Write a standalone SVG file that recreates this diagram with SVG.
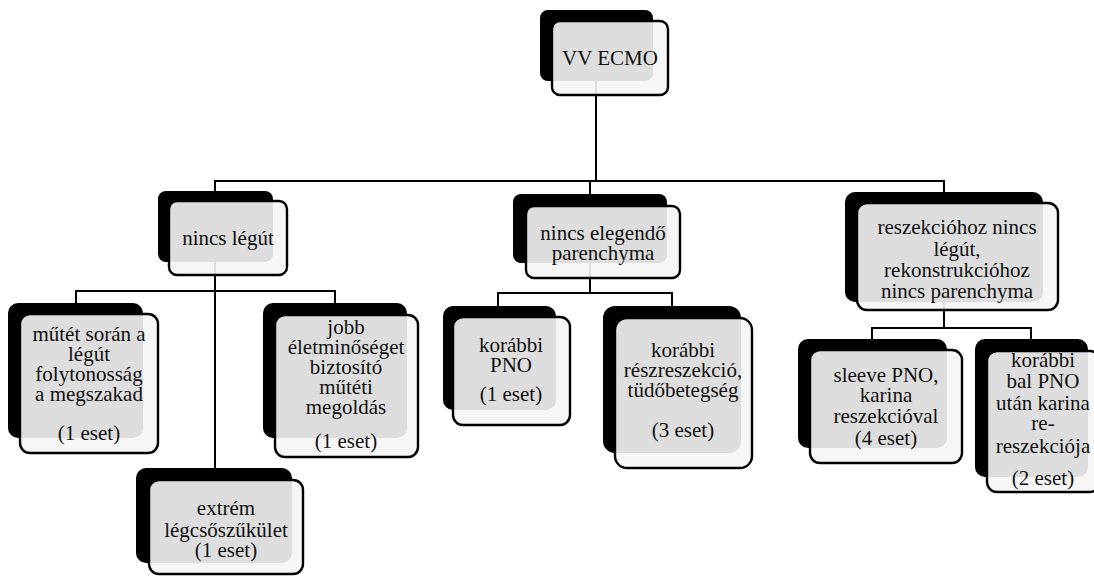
<svg xmlns="http://www.w3.org/2000/svg" width="1094" height="576" viewBox="0 0 1094 576">
<style>
.back{fill:#000;}
.front{fill:#f5f5f5;fill-opacity:0.9;stroke:#000;stroke-width:2.4;}
.conn{fill:none;stroke:#000;stroke-width:2;}
.t{font-size:21px;fill:#111;text-anchor:middle;}
</style>
<rect width="1094" height="576" fill="#fff"/>
<g id="connectors">
<path class="conn" d="M596,81V181M215,191V181H944V192M590,181V194"/>
<path class="conn" d="M215,262V468M76,303V291H335V303"/>
<path class="conn" d="M590,263V293M498,306V293H672V306"/>
<path class="conn" d="M944,302V328M872,339V328H1031V339"/>
</g>
<g font-family="Liberation Serif, DejaVu Serif, Times New Roman, serif">
<g id="n-vvecmo">
<rect class="back" x="540" y="10" width="113" height="71" rx="8"/>
<rect class="front" x="552" y="21" width="116" height="74" rx="8"/>
<text class="t" x="610" y="65">VV ECMO</text>
</g>
<g id="n-nincs-legut">
<rect class="back" x="158" y="191" width="115" height="71" rx="8"/>
<rect class="front" x="169" y="201" width="118" height="74" rx="8"/>
<text class="t" x="228" y="245">nincs légút</text>
</g>
<g id="n-mutet">
<rect class="back" x="8" y="303" width="135" height="135" rx="10"/>
<rect class="front" x="20" y="314" width="138" height="139" rx="10"/>
<text class="t" x="89" y="341">műtét során a</text>
<text class="t" x="89" y="361">légút</text>
<text class="t" x="89" y="381">folytonosság</text>
<text class="t" x="89" y="401">a megszakad</text>
<text class="t" x="89" y="440">(1 eset)</text>
</g>
<g id="n-jobb">
<rect class="back" x="263" y="303" width="144" height="135" rx="10"/>
<rect class="front" x="275" y="315" width="143" height="142" rx="10"/>
<text class="t" x="346" y="334">jobb</text>
<text class="t" x="346" y="354">életminőséget</text>
<text class="t" x="346" y="374">biztosító</text>
<text class="t" x="346" y="394">műtéti</text>
<text class="t" x="346" y="414">megoldás</text>
<text class="t" x="346" y="448">(1 eset)</text>
</g>
<g id="n-extrem">
<rect class="back" x="136" y="468" width="156" height="95" rx="10"/>
<rect class="front" x="149" y="480" width="154" height="94" rx="10"/>
<text class="t" x="226" y="515">extrém</text>
<text class="t" x="226" y="537">légcsőszűkület</text>
<text class="t" x="226" y="557">(1 eset)</text>
</g>
<g id="n-nincs-elegendo">
<rect class="back" x="513" y="194" width="154" height="69" rx="8"/>
<rect class="front" x="526" y="206" width="154" height="72" rx="8"/>
<text class="t" x="603" y="240">nincs elegendő</text>
<text class="t" x="603" y="260">parenchyma</text>
</g>
<g id="n-korabbi-pno">
<rect class="back" x="443" y="306" width="113" height="104" rx="10"/>
<rect class="front" x="453" y="317" width="117" height="108" rx="10"/>
<text class="t" x="511" y="352">korábbi</text>
<text class="t" x="511" y="372">PNO</text>
<text class="t" x="511" y="401">(1 eset)</text>
</g>
<g id="n-korabbi-resz">
<rect class="back" x="603" y="306" width="138" height="147" rx="12"/>
<rect class="front" x="615" y="318" width="137" height="150" rx="12"/>
<text class="t" x="683" y="357">korábbi</text>
<text class="t" x="683" y="377">részreszekció,</text>
<text class="t" x="683" y="397">tüdőbetegség</text>
<text class="t" x="683" y="437">(3 eset)</text>
</g>
<g id="n-reszekciohoz">
<rect class="back" x="845" y="192" width="198" height="110" rx="10"/>
<rect class="front" x="857" y="203" width="201" height="107" rx="10"/>
<text class="t" x="957" y="234">reszekcióhoz nincs</text>
<text class="t" x="957" y="256">légút,</text>
<text class="t" x="957" y="277">rekonstrukcióhoz</text>
<text class="t" x="957" y="298">nincs parenchyma</text>
</g>
<g id="n-sleeve">
<rect class="back" x="798" y="339" width="149" height="109" rx="10"/>
<rect class="front" x="810" y="350" width="152" height="113" rx="10"/>
<text class="t" x="886" y="382">sleeve PNO,</text>
<text class="t" x="886" y="402">karina</text>
<text class="t" x="886" y="423">reszekcióval</text>
<text class="t" x="886" y="445">(4 eset)</text>
</g>
<g id="n-korabbi-bal">
<rect class="back" x="975" y="339" width="113" height="138" rx="10"/>
<rect class="front" x="987" y="351" width="113" height="141" rx="10"/>
<text class="t" x="1043" y="367">korábbi</text>
<text class="t" x="1043" y="388">bal PNO</text>
<text class="t" x="1043" y="410">után karina</text>
<text class="t" x="1043" y="430">re-</text>
<text class="t" x="1043" y="453">reszekciója</text>
<text class="t" x="1043" y="485">(2 eset)</text>
</g>
</g>
</svg>
